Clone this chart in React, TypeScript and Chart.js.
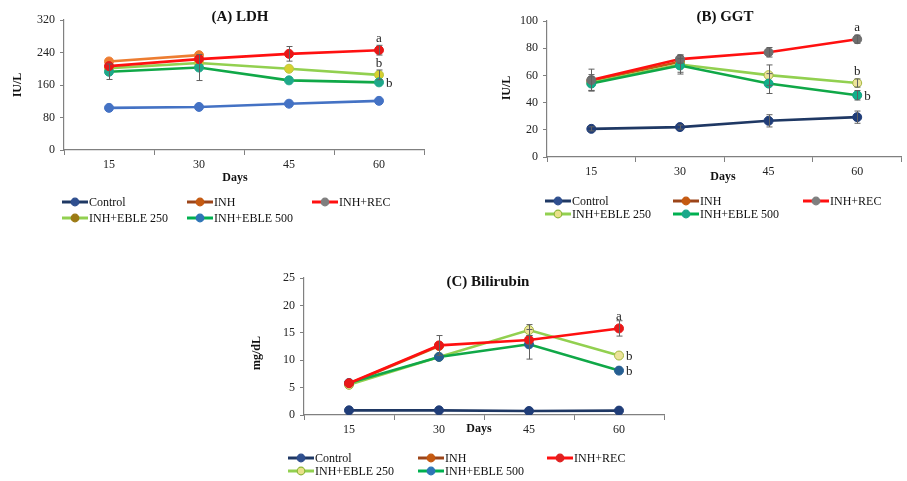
import React, { useEffect, useRef } from "react";
import { Chart, registerables } from "chart.js";

Chart.register(...registerables);

const FONT = '"Liberation Serif", "Times New Roman", serif';

// ---------- data ----------
const days = ["15", "30", "45", "60"];
const seriesNames = ["Control", "INH", "INH+REC", "INH+EBLE 250", "INH+EBLE 500"];

// (A) LDH, IU/L
const ldhControl = [103.7, 106, 114, 121];
const ldhInh = [218, 233.5, null, null];
const ldhRec = [206.5, 223.7, 236.7, 245.7];
const ldhEble250 = [201.6, 214, 200, 185];
const ldhEble500 = [192.6, 203, 171.4, 166.5];
const ldhErrControl = [0, 0, 0, 0];
const ldhErrInh = [0, 0, 0, 0];
const ldhErrRec = [0, 0, 18, 12];
const ldhErrEble250 = [0, 0, 0, 12];
const ldhErrEble500 = [19, 32, 0, 0];

// (B) GGT, IU/L
const ggtControl = [20.7, 22, 26.6, 29.3];
const ggtInh = [56, 70, null, null];
const ggtRec = [56.6, 72, 77, 86.6];
const ggtEble250 = [54.6, 68, 60.2, 54.4];
const ggtEble500 = [54, 67.3, 54, 45.4];
const ggtErrControl = [1.5, 1.5, 4.5, 4.5];
const ggtErrInh = [0, 0, 0, 0];
const ggtErrRec = [8, 3, 3.5, 3];
const ggtErrEble250 = [6, 7, 7.5, 3];
const ggtErrEble500 = [5, 5, 7.3, 3.5];

// (C) Bilirubin, mg/dL
const biliControl = [0.85, 0.85, 0.73, 0.8];
const biliInh = [5.7, 12.6, null, null];
const biliRec = [5.8, 12.7, 13.7, 15.8];
const biliEble250 = [5.5, 10.6, 15.5, 10.85];
const biliEble500 = [5.85, 10.6, 12.9, 8.1];
const biliErrControl = [0, 0, 0, 0];
const biliErrInh = [0, 0, 0, 0];
const biliErrRec = [0, 1.8, 0.8, 1.4];
const biliErrEble250 = [0, 0, 1, 0];
const biliErrEble500 = [0, 0, 2.7, 0];

// significance letters at day 60: [series index, letter, placement]
const ldhLetters = [[2, "a", "above"], [3, "b", "above"], [4, "b", "right"]];
const ggtLetters = [[2, "a", "above"], [3, "b", "above"], [4, "b", "right"]];
const biliLetters = [[2, "a", "above"], [3, "b", "right"], [4, "b", "right"]];

// ---------- styles ----------
const NAVY = "#1f3864";
const legendStyleA = [
  { line: NAVY, fill: "#2f4f8f", border: "#2f4f8f" },
  { line: "#9c4519", fill: "#c55a11", border: "#c55a11" },
  { line: "#ff1010", fill: "#7f7f7f", border: "#7f7f7f" },
  { line: "#92d050", fill: "#9c7a14", border: "#9c7a14" },
  { line: "#00b050", fill: "#2e75b6", border: "#2e75b6" },
];
const legendStyleB = [
  { line: NAVY, fill: "#2f4f8f", border: "#2f4f8f" },
  { line: "#9c4519", fill: "#c55a11", border: "#c55a11" },
  { line: "#ff1010", fill: "#7f7f7f", border: "#7f7f7f" },
  { line: "#92d050", fill: "#e9e08a", border: "#8fb83a" },
  { line: "#00b050", fill: "#1aa88a", border: "#1aa88a" },
];
const legendStyleC = [
  { line: NAVY, fill: "#2f4f8f", border: "#2f4f8f" },
  { line: "#9c4519", fill: "#c55a11", border: "#c55a11" },
  { line: "#ff1010", fill: "#e02020", border: "#e02020" },
  { line: "#92d050", fill: "#e9e08a", border: "#8fb83a" },
  { line: "#00b050", fill: "#2e75b6", border: "#2e75b6" },
];
const plotStyleA = [
  { line: "#4472c4", fill: "#4472c4", border: "#4472c4" },
  { line: "#ed7d31", fill: "#ed7d31", border: "#ed7d31" },
  { line: "#ff1010", fill: "#e81818", border: "#e81818" },
  { line: "#92d050", fill: "#d8d030", border: "#b8c840" },
  { line: "#10a848", fill: "#1fa88a", border: "#1fa88a" },
];
const plotStyleB = [
  { line: NAVY, fill: "#203d78", border: "#203d78" },
  { line: "#c55a11", fill: "#c55a11", border: "#c55a11" },
  { line: "#ff1010", fill: "#6f6f6f", border: "#6f6f6f" },
  { line: "#92d050", fill: "#ece39a", border: "#a5b840" },
  { line: "#10a848", fill: "#10b08a", border: "#10a080" },
];
const plotStyleC = [
  { line: NAVY, fill: "#203d78", border: "#203d78" },
  { line: "#c55a11", fill: "#c55a11", border: "#c55a11" },
  { line: "#ff1010", fill: "#e81818", border: "#e81818" },
  { line: "#92d050", fill: "#ece39a", border: "#a5b840" },
  { line: "#10a848", fill: "#255e91", border: "#255e91" },
];

const panels = [
  {
    key: "A",
    title: "(A) LDH",
    yTitle: "IU/L",
    series: [ldhControl, ldhInh, ldhRec, ldhEble250, ldhEble500],
    errors: [ldhErrControl, ldhErrInh, ldhErrRec, ldhErrEble250, ldhErrEble500],
    letters: ldhLetters,
    yMax: 320,
    yStep: 80,
    plotStyle: plotStyleA,
    legendStyle: legendStyleA,
    box: { left: 0, top: 0, w: 450, h: 232 },
    area: { left: 64, right: 424, top: 20, bottom: 150 },
    titlePos: [240, 17],
    yTitlePos: [18, 85],
    xTitlePos: [235, 178],
    legendX: [62, 187, 312],
    legendY: [202, 218],
  },
  {
    key: "B",
    title: "(B) GGT",
    yTitle: "IU/L",
    series: [ggtControl, ggtInh, ggtRec, ggtEble250, ggtEble500],
    errors: [ggtErrControl, ggtErrInh, ggtErrRec, ggtErrEble250, ggtErrEble500],
    letters: ggtLetters,
    yMax: 100,
    yStep: 20,
    plotStyle: plotStyleB,
    legendStyle: legendStyleB,
    box: { left: 460, top: 0, w: 447, h: 232 },
    area: { left: 87, right: 445, top: 21, bottom: 157 },
    titlePos: [265, 17],
    yTitlePos: [47, 88],
    xTitlePos: [263, 177],
    legendX: [85, 213, 343],
    legendY: [201, 214],
  },
  {
    key: "C",
    title: "(C) Bilirubin",
    yTitle: "mg/dL",
    series: [biliControl, biliInh, biliRec, biliEble250, biliEble500],
    errors: [biliErrControl, biliErrInh, biliErrRec, biliErrEble250, biliErrEble500],
    letters: biliLetters,
    yMax: 25,
    yStep: 5,
    plotStyle: plotStyleC,
    legendStyle: legendStyleC,
    box: { left: 240, top: 255, w: 440, h: 226 },
    area: { left: 64, right: 424, top: 23, bottom: 160 },
    titlePos: [248, 27],
    yTitlePos: [17, 98],
    xTitlePos: [239, 174],
    legendX: [48, 178, 307],
    legendY: [203, 216],
  },
];

const decorPlugin = {
  id: "decor",
  afterDatasetsDraw(chart: any, _args: any, opts: any) {
    const p = opts.panel;
    if (!p) return;
    const ctx = chart.ctx;
    const xS = chart.scales.x;
    const yS = chart.scales.y;
    ctx.save();
    ctx.strokeStyle = "#606060";
    ctx.lineWidth = 1;
    p.series.forEach((vals: any[], i: number) => {
      const errs = p.errors[i];
      vals.forEach((v: any, j: number) => {
        const e = errs[j];
        if (v == null || !e) return;
        const x = Math.round(xS.getPixelForValue(j)) + 0.5;
        const y1 = yS.getPixelForValue(v - e);
        const y2 = yS.getPixelForValue(v + e);
        ctx.beginPath();
        ctx.moveTo(x, y1);
        ctx.lineTo(x, y2);
        ctx.moveTo(x - 3, y1);
        ctx.lineTo(x + 3, y1);
        ctx.moveTo(x - 3, y2);
        ctx.lineTo(x + 3, y2);
        ctx.stroke();
      });
    });
    ctx.restore();
  },
  afterDraw(chart: any, _args: any, opts: any) {
    const p = opts.panel;
    if (!p) return;
    const ctx = chart.ctx;
    const xS = chart.scales.x;
    const yS = chart.scales.y;
    ctx.save();
    ctx.fillStyle = "#111";
    // title
    ctx.font = `bold 15px ${FONT}`;
    ctx.textAlign = "center";
    ctx.textBaseline = "middle";
    ctx.fillText(p.title, p.titlePos[0], p.titlePos[1]);
    // x title
    ctx.font = `bold 12px ${FONT}`;
    ctx.fillText("Days", p.xTitlePos[0], p.xTitlePos[1]);
    // y title
    ctx.save();
    ctx.translate(p.yTitlePos[0], p.yTitlePos[1]);
    ctx.rotate(-Math.PI / 2);
    ctx.fillText(p.yTitle, 0, 0);
    ctx.restore();
    // letters
    ctx.font = `13px ${FONT}`;
    ctx.fillStyle = "#222";
    p.letters.forEach((l: any[]) => {
      const [si, txt, place] = l;
      const last = p.series[si].length - 1;
      const v = p.series[si][last];
      const x = xS.getPixelForValue(last);
      const y = yS.getPixelForValue(v);
      if (place === "above") {
        ctx.textAlign = "center";
        ctx.textBaseline = "alphabetic";
        ctx.fillText(txt, x, y - 8);
      } else {
        ctx.textAlign = "left";
        ctx.textBaseline = "middle";
        ctx.fillText(txt, x + 7, y + 1);
      }
    });
    // legend
    ctx.font = `12px ${FONT}`;
    ctx.textAlign = "left";
    ctx.textBaseline = "middle";
    seriesNames.forEach((name, i) => {
      const col = i % 3;
      const row = Math.floor(i / 3);
      const x = p.legendX[col];
      const y = p.legendY[row];
      const st = p.legendStyle[i];
      ctx.strokeStyle = st.line;
      ctx.lineWidth = 3;
      ctx.beginPath();
      ctx.moveTo(x, y);
      ctx.lineTo(x + 26, y);
      ctx.stroke();
      ctx.beginPath();
      ctx.arc(x + 13, y, 3.8, 0, Math.PI * 2);
      ctx.fillStyle = st.fill;
      ctx.fill();
      ctx.lineWidth = 1.2;
      ctx.strokeStyle = st.border;
      ctx.stroke();
      ctx.fillStyle = "#111";
      ctx.fillText(name, x + 27, y + 1);
    });
    ctx.restore();
  },
};

function Panel({ p }: { p: any }) {
  const ref = useRef<HTMLCanvasElement>(null);
  useEffect(() => {
    if (!ref.current) return;
    const { box, area } = p;
    const datasets = p.series.map((vals: any[], i: number) => ({
      label: seriesNames[i],
      data: vals,
      borderColor: p.plotStyle[i].line,
      backgroundColor: p.plotStyle[i].fill,
      pointBackgroundColor: p.plotStyle[i].fill,
      pointBorderColor: p.plotStyle[i].border,
      pointBorderWidth: 1,
      pointRadius: 4.5,
      borderWidth: 2.6,
      tension: 0,
      spanGaps: false,
      order: i === 2 ? 0 : i === 4 ? 1 : i === 3 ? 2 : 3,
    }));
    const chart = new Chart(ref.current, {
      type: "line",
      data: { labels: days, datasets },
      plugins: [decorPlugin],
      options: {
        responsive: false,
        animation: false,
        devicePixelRatio: 1,
        layout: {
          padding: { left: 0, top: area.top, right: box.w - area.right, bottom: 0 },
        },
        plugins: {
          legend: { display: false },
          tooltip: { enabled: false },
          decor: { panel: p },
        } as any,
        scales: {
          x: {
            type: "category",
            offset: true,
            afterFit: (s: any) => {
              s.height = box.h - area.bottom;
            },
            grid: {
              offset: true,
              drawOnChartArea: false,
              drawTicks: true,
              tickLength: 5,
              color: "#808080",
            },
            border: { display: true, color: "#808080", width: 1.2 },
            ticks: {
              color: "#222",
              padding: 3,
              font: { family: FONT, size: 12 },
            },
          },
          y: {
            min: 0,
            max: p.yMax,
            afterFit: (s: any) => {
              s.width = area.left;
            },
            grid: {
              drawOnChartArea: false,
              drawTicks: true,
              tickLength: 4,
              color: "#808080",
            },
            border: { display: true, color: "#808080", width: 1.2 },
            ticks: {
              stepSize: p.yStep,
              color: "#222",
              padding: 5,
              font: { family: FONT, size: 12 },
            },
          },
        },
      } as any,
    });
    return () => chart.destroy();
  }, [p]);
  return (
    <canvas
      ref={ref}
      width={p.box.w}
      height={p.box.h}
      style={{
        position: "absolute",
        left: p.box.left,
        top: p.box.top,
        width: p.box.w,
        height: p.box.h,
      }}
    />
  );
}

export default function App() {
  return (
    <div
      style={{
        position: "absolute",
        left: 0,
        top: 0,
        width: 907,
        height: 481,
        background: "#fff",
        overflow: "hidden",
      }}
    >
      {panels.map((p) => (
        <Panel key={p.key} p={p} />
      ))}
    </div>
  );
}
